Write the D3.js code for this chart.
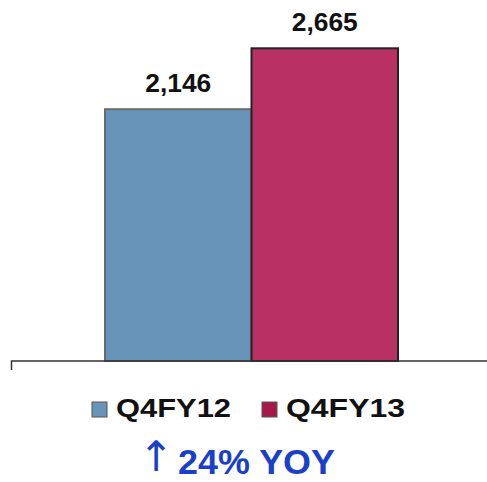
<!DOCTYPE html>
<html><head><meta charset="utf-8">
<script src="https://cdn.jsdelivr.net/npm/d3@7"></script>
<style>body{margin:0;background:#fff}svg{display:block}</style>
</head><body>
<script>
const categories = ["Q4FY12", "Q4FY13"];
const values = [2146, 2665];
const colors = ["#6794b8", "#b93063"];
const legendColors = ["#6794b8", "#a8174a"];
const strokes = ["#6b6b6b", "#222222"];
const arrow = "↑";
const subtitle = "24% YOY";

const W = 487, H = 482;
const svg = d3.select("body").append("svg").attr("width", W).attr("height", H);

const x = d3.scaleBand().domain(categories).range([105, 398]).paddingInner(0).paddingOuter(0);
const y = d3.scaleLinear().domain([0, 3000]).range([361, 9]);

svg.selectAll("rect.bar").data(values).join("rect")
  .attr("class", "bar")
  .attr("x", (d, i) => x(categories[i]))
  .attr("y", d => y(d))
  .attr("width", x.bandwidth())
  .attr("height", d => y(0) - y(d))
  .attr("fill", (d, i) => colors[i])
  .attr("stroke", (d, i) => strokes[i])
  .attr("stroke-width", 2);

svg.selectAll("text.val").data(values).join("text")
  .attr("class", "val")
  .attr("x", (d, i) => x(categories[i]) + x.bandwidth() / 2)
  .attr("y", d => y(d) - 17)
  .attr("text-anchor", "middle")
  .attr("font-family", "Liberation Sans, Arial, sans-serif")
  .attr("font-weight", "bold")
  .attr("font-size", 26)
  .attr("fill", "#111")
  .attr("textLength", 66).attr("lengthAdjust", "spacingAndGlyphs")
  .text(d => d3.format(",")(d));

// axis line
svg.append("path")
  .attr("d", `M11.5,370 V${y(0)} H${W}`)
  .attr("fill", "none").attr("stroke", "#333").attr("stroke-width", 1.5);

// legend
const legX = [92, 262];
const lg = svg.selectAll("g.leg").data(categories).join("g").attr("class", "leg")
  .attr("transform", (d, i) => `translate(${legX[i]},0)`);
lg.append("rect").attr("x", 0).attr("y", 402).attr("width", 15).attr("height", 15)
  .attr("fill", (d, i) => legendColors[i])
  .attr("stroke", "#555").attr("stroke-width", 1);
lg.append("text").attr("x", 24).attr("y", 417)
  .attr("font-family", "Liberation Sans, Arial, sans-serif")
  .attr("font-weight", "bold").attr("font-size", 25).attr("fill", "#111")
  .attr("textLength", (d, i) => i === 0 ? 115 : 119).attr("lengthAdjust", "spacingAndGlyphs")
  .text(d => d);

// subtitle
svg.append("text").attr("x", 156).attr("y", 471).attr("fill", "#1b40c8")
  .attr("text-anchor", "middle")
  .attr("font-family", "DejaVu Sans, sans-serif").attr("font-size", 42)
  .attr("font-weight", "normal")
  .text(arrow);
svg.append("text").attr("x", 178).attr("y", 474).attr("fill", "#1b40c8")
  .attr("font-family", "Liberation Sans, Arial, sans-serif").attr("font-size", 35)
  .attr("font-weight", "bold")
  .attr("textLength", 157).attr("lengthAdjust", "spacingAndGlyphs")
  .text(subtitle);
</script>
</body></html>
